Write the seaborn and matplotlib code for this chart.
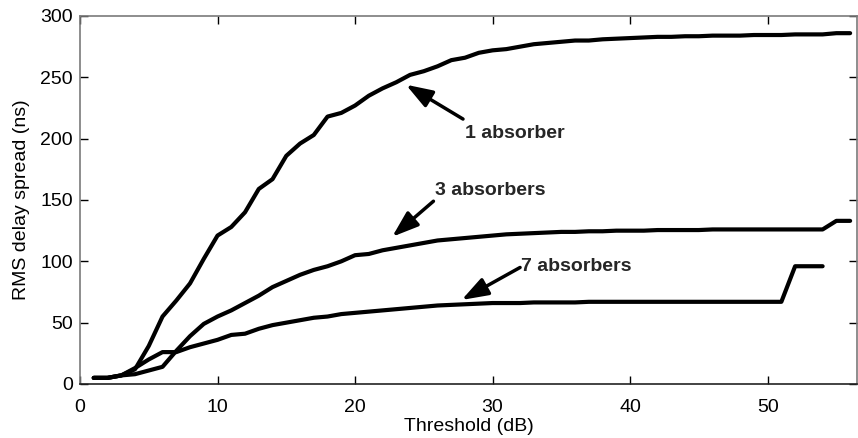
import matplotlib
matplotlib.use("Agg")
import matplotlib.pyplot as plt
import seaborn as sns
import pandas as pd

# Threshold (dB) sample points for each configuration
thr_1 = list(range(1, 57))
thr_3 = list(range(1, 57))
thr_7 = list(range(1, 55))

# RMS delay spread (ns)
rms_1 = [5, 5, 7, 12, 31, 55, 68, 82, 102, 121, 128, 140, 159, 167, 186, 196,
         203, 218, 221, 227, 235, 241, 246, 252, 255, 259, 264, 266, 270, 272,
         273, 275, 277, 278, 279, 280, 280, 281, 281.5, 282, 282.5, 283, 283,
         283.5, 283.5, 284, 284, 284, 284.5, 284.5, 284.5, 285, 285, 285, 286, 286]
rms_3 = [5, 5, 7, 8, 11, 14, 27, 39, 49, 55, 60, 66, 72, 79, 84, 89, 93, 96,
         100, 105, 106, 109, 111, 113, 115, 117, 118, 119, 120, 121, 122, 122.5,
         123, 123.5, 124, 124, 124.5, 124.5, 125, 125, 125, 125.5, 125.5, 125.5,
         125.5, 126, 126, 126, 126, 126, 126, 126, 126, 126, 133, 133]
rms_7 = [5, 5, 7, 13, 20, 26, 26, 30, 33, 36, 40, 41, 45, 48, 50, 52, 54, 55,
         57, 58, 59, 60, 61, 62, 63, 64, 64.5, 65, 65.5, 66, 66, 66, 66.5, 66.5,
         66.5, 66.5, 67, 67, 67, 67, 67, 67, 67, 67, 67, 67, 67, 67, 67, 67, 67,
         96, 96, 96]

labels = ["1 absorber", "3 absorbers", "7 absorbers"]

df = pd.concat([
    pd.DataFrame({"thr": thr_1, "rms": rms_1, "cfg": labels[0]}),
    pd.DataFrame({"thr": thr_3, "rms": rms_3, "cfg": labels[1]}),
    pd.DataFrame({"thr": thr_7, "rms": rms_7, "cfg": labels[2]}),
])

sns.set_theme(style="white")
plt.rcParams["font.family"] = ["Liberation Sans", "DejaVu Sans"]

fig = plt.figure(figsize=(8.58, 4.38), dpi=100)
ax = fig.add_axes([80 / 858, 54 / 438, 777 / 858, 368 / 438])

for cfg in labels:
    sub = df[df["cfg"] == cfg]
    sns.lineplot(data=sub, x="thr", y="rms", ax=ax, color="black",
                 linewidth=3.0, legend=False, estimator=None, sort=False)

ax.set_xlim(0, 56.5)
ax.set_ylim(0, 300)
ax.set_xticks([0, 10, 20, 30, 40, 50])
ax.set_yticks([0, 50, 100, 150, 200, 250, 300])
ax.set_xlabel("Threshold (dB)", fontsize=14, color="black", labelpad=2)
ax.set_ylabel("RMS delay spread (ns)", fontsize=14, color="black", labelpad=7.5)

ax.tick_params(axis="both", which="both", direction="in", length=6, width=1,
               labelsize=14, colors="black", top=True, right=True,
               bottom=True, left=True)
ax.tick_params(axis="x", pad=10.5)
ax.tick_params(axis="y", pad=5)
for side in ["left", "top", "right"]:
    ax.spines[side].set_color("#7a7a7a")
    ax.spines[side].set_linewidth(1.2)
ax.spines["bottom"].set_color("#222222")
ax.spines["bottom"].set_linewidth(1.2)

arrow = dict(arrowstyle="-|>,head_length=0.8,head_width=0.28", color="black",
             lw=2.5, mutation_scale=20, shrinkA=0, shrinkB=0)
ax.annotate("", xy=(23.7, 244), xytext=(27.85, 216), arrowprops=arrow)
ax.text(28.0, 204.5, labels[0], fontsize=14, fontweight="bold", va="center", ha="left")

ax.annotate("", xy=(22.7, 120), xytext=(25.7, 149), arrowprops=arrow)
ax.text(25.8, 158, labels[1], fontsize=14, fontweight="bold", va="center", ha="left")

ax.annotate("", xy=(27.75, 68.5), xytext=(32.0, 95), arrowprops=arrow)
ax.text(32.1, 95.5, labels[2], fontsize=14, fontweight="bold", va="center", ha="left")

fig.savefig("out.png", dpi=100, facecolor="white")
